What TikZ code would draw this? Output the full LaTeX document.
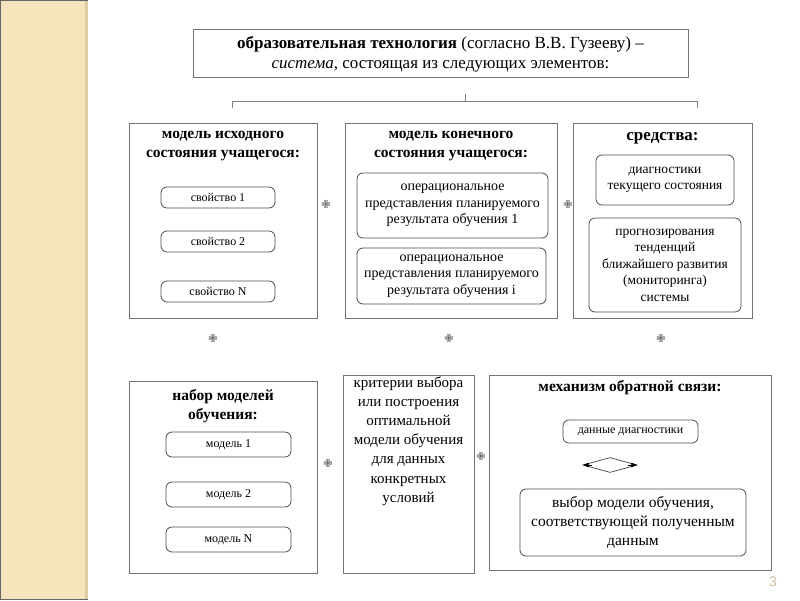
\documentclass[tikz,border=0pt]{standalone}
\usepackage{fontspec}
\setmainfont{Liberation Serif}
\newfontfamily\symfont{DejaVu Sans}
\newfontfamily\numfont{Liberation Sans}
\usetikzlibrary{shapes.geometric,arrows.meta}
\definecolor{stripe}{HTML}{F3E4BC}
\definecolor{stripeedge}{HTML}{DCCDA6}
\definecolor{pagenum}{HTML}{CBBC9C}
\begin{document}
\begin{tikzpicture}
  [x=1pt,y=-1pt,
   frame/.style={draw=black!55,line width=.9pt,inner sep=0pt},
   item/.style={draw=black!70,line width=.8pt,rounded corners=6pt,inner sep=0pt,align=center},
   head/.style={font=\bfseries\fontsize{15.5}{19}\selectfont,align=center},
   small/.style={font=\fontsize{12}{14}\selectfont},
   mid/.style={font=\fontsize{13.5}{16.5}\selectfont},
   plus/.style={font=\symfont\fontsize{11}{11}\selectfont,text=black!70,inner sep=0pt},
   brace/.style={draw=black!50,line width=.9pt}]
  \useasboundingbox (0,0) rectangle (800,600);
  \fill[stripe] (0,0) rectangle (88,600);
  \fill[stripeedge] (85,0) rectangle (88,600);
  \draw[black!60,line width=1.2pt] (88,.6) -- (.6,.6) -- (.6,599.4) -- (88,599.4);

  \node[frame,minimum width=495,minimum height=48] (tech) at (440.5,53) {};
  \node[font=\fontsize{17}{20}\selectfont,align=center] (techtxt) at (440.5,54)
    {\textbf{образовательная технология} (согласно В.В. Гузееву) –\\
     \textit{система}, состоящая из следующих элементов:};

  \coordinate (bl) at (232,108);
  \coordinate (br) at (697,108);
  \coordinate (bt) at (465,94);
  \draw[brace] (bl) -- ++(0,-7) -| (br);
  \draw[brace] (bt) -- ++(0,7);

  \node[frame,minimum width=188,minimum height=195] (start) at (223,220.5) {};
  \node[head] (starthead) at (223,146) {модель исходного\\состояния учащегося:};
  \node[item,small,minimum width=114,minimum height=21] (prop1) at (218,197.5) {свойство 1};
  \node[item,small,minimum width=114,minimum height=21] (prop2) at (218,241.5) {свойство 2};
  \node[item,small,minimum width=114,minimum height=21] (propN) at (218,291.5) {свойство N};

  \node[frame,minimum width=212,minimum height=195] (goal) at (451,220.5) {};
  \node[head] (goalhead) at (451,146) {модель конечного\\состояния учащегося:};
  \node[item,font=\fontsize{14}{16.5}\selectfont,minimum width=191,minimum height=65] (res1) at (452.5,205.5)
    {операциональное\\представления планируемого\\результата обучения 1};
  \node[item,font=\fontsize{14}{16.5}\selectfont,minimum width=189,minimum height=56] (resi) at (451.5,276)
    {операциональное\\представления планируемого\\результата обучения i};

  \node[frame,minimum width=179,minimum height=195] (means) at (662.5,220.5) {};
  \node[head,font=\bfseries\fontsize{17}{20}\selectfont] (meanshead) at (662.5,138) {средства:};
  \node[item,mid,minimum width=138,minimum height=50] (diag) at (665,180)
    {диагностики\\текущего состояния};
  \node[item,mid,minimum width=152,minimum height=94] (forecast) at (665,265)
    {прогнозирования\\тенденций\\ближайшего развития\\(мониторинга)\\системы};

  \node[frame,minimum width=188,minimum height=192] (models) at (223,477) {};
  \node[head] (modelshead) at (223,406) {набор моделей\\обучения:};
  \node[item,small,minimum width=125,minimum height=25] (model1) at (228.5,444.5) {модель 1};
  \node[item,small,minimum width=125,minimum height=25] (model2) at (228.5,494.5) {модель 2};
  \node[item,small,minimum width=125,minimum height=25] (modelN) at (228.5,539.5) {модель N};

  \node[frame,minimum width=131,minimum height=198] (criteria) at (408.5,474) {};
  \node[font=\fontsize{15}{19.2}\selectfont,align=center] (crittxt) at (408.5,441)
    {критерии выбора\\или построения\\оптимальной\\модели обучения\\для данных\\конкретных\\условий};

  \node[frame,minimum width=282,minimum height=195] (feedback) at (630,472.5) {};
  \node[head] (feedbackhead) at (630,388) {механизм обратной связи:};
  \node[item,small,minimum width=135,minimum height=23] (data) at (630.5,431.5) {данные диагностики};
  \node[diamond,draw=black!75,line width=.7pt,minimum width=54,minimum height=15,inner sep=0pt] (swap) at (610,465) {};
  \draw[-{Latex[length=6pt,width=5pt]},black,line width=.6pt] ([xshift=9pt]swap.west) -- (swap.west);
  \draw[-{Latex[length=6pt,width=5pt]},black,line width=.6pt] ([xshift=-9pt]swap.east) -- (swap.east);
  \node[item,font=\fontsize{15.5}{19}\selectfont,minimum width=226,minimum height=67] (choice) at (633,522.5)
    {выбор модели обучения,\\соответствующей полученным\\данным};

  \node[plus] (p1) at (326,204) {✙};
  \node[plus] (p2) at (568,204) {✙};
  \node[plus] (p3) at (213,338) {✙};
  \node[plus] (p4) at (449,338) {✙};
  \node[plus] (p5) at (661,338) {✙};
  \node[plus] (p6) at (328,463) {✙};
  \node[plus] (p7) at (481,456) {✙};

  \node[font=\numfont\fontsize{14}{14}\selectfont,text=pagenum] (page) at (773,582) {3};
\end{tikzpicture}
\end{document}
